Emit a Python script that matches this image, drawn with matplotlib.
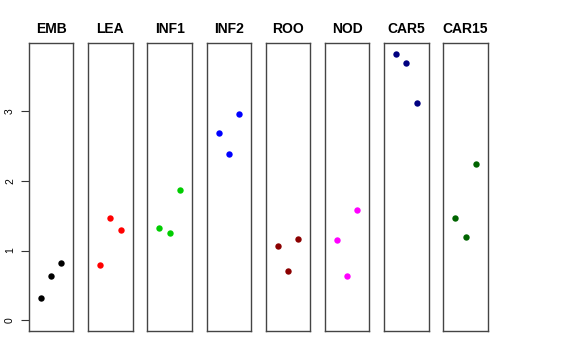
import matplotlib
matplotlib.use("Agg")
import matplotlib.pyplot as plt

plt.rcParams['font.family'] = ['Liberation Sans', 'DejaVu Sans']

tissues = ["EMB", "LEA", "INF1", "INF2", "ROO", "NOD", "CAR5", "CAR15"]
colors = ["#000000", "#FF0000", "#00CD00", "#0000FF", "#8B0000", "#FF00FF", "#000080", "#006400"]
values = [
    [0.32, 0.64, 0.82],
    [0.79, 1.47, 1.29],
    [1.32, 1.25, 1.86],
    [2.69, 2.38, 2.96],
    [1.07, 0.71, 1.16],
    [1.15, 0.64, 1.58],
    [3.82, 3.69, 3.12],
    [1.47, 1.19, 2.24],
]
positions = [1, 2, 3]
yticks = [0, 1, 2, 3]

W, H = 576, 360
fig = plt.figure(figsize=(W / 100, H / 100), dpi=100)

left0 = 29.0
pw = 44.4
pitch = 59.2
top = 43.0
bottom = 331.0
ymax_all = max(max(v) for v in values)
pad = 0.04 * ymax_all

for i, (name, col, vals) in enumerate(zip(tissues, colors, values)):
    x0 = left0 + i * pitch
    ax = fig.add_axes([x0 / W, 1 - bottom / H, pw / W, (bottom - top) / H])
    ax.plot(positions, vals, 'o', color=col, markersize=4.6, markeredgewidth=0)
    ax.set_xlim(0 - 0.16, 4 + 0.16)
    ax.set_ylim(0 - pad, ymax_all + pad)
    ax.set_xticks([])
    for s in ax.spines.values():
        s.set_color('#444444')
        s.set_linewidth(1.0)
    ax.set_title(name, fontsize=10, fontweight='bold', pad=7)
    if i == 0:
        ax.set_yticks(yticks)
        ax.set_yticklabels([str(t) for t in yticks], rotation=90, va='center', fontsize=7.5)
        ax.tick_params(axis='y', length=6, width=0.8, pad=4, color='#333333')
    else:
        ax.set_yticks([])

fig.savefig("out.png", dpi=100)
